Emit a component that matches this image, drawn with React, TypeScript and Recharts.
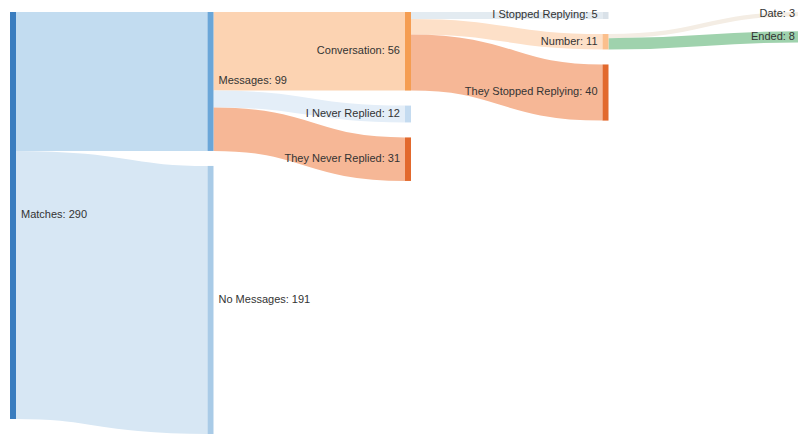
import { Sankey } from "recharts";

const nodeNames = [
  "Matches",
  "Messages",
  "No Messages",
  "Conversation",
  "I Never Replied",
  "They Never Replied",
  "I Stopped Replying",
  "Number",
  "They Stopped Replying",
  "Date",
  "Ended",
];
const nodeValues = [290, 99, 191, 56, 12, 31, 5, 11, 40, 3, 8];
const nodeColors = [
  "#3a7dbf",
  "#6aa6d8",
  "#a9cbe7",
  "#f59d52",
  "#c4dbf0",
  "#e2692d",
  "#d9e1e8",
  "#fbbf8c",
  "#e2692d",
  "#e6ddd1",
  "#3e9f57",
];
// label to the right of the node for these, left for the rest
const labelRight = [true, true, true, false, false, false, false, false, false, false, false];

const linkSources = [0, 0, 1, 1, 1, 3, 3, 3, 7, 7];
const linkTargets = [1, 2, 3, 4, 5, 6, 7, 8, 9, 10];
const linkValues = [99, 191, 56, 12, 31, 5, 11, 40, 3, 8];
const linkColors = [
  "#c2dcf0",
  "#d7e7f4",
  "#fcd3b2",
  "#e4eef8",
  "#f6b796",
  "#e3ebf1",
  "#fde0c8",
  "#f6b796",
  "#f4ede4",
  "#9fd2ad",
];

const data = {
  nodes: nodeNames.map((name) => ({ name })),
  links: linkSources.map((source, i) => ({
    source,
    target: linkTargets[i],
    value: linkValues[i],
  })),
};

function SankeyNode(props: any) {
  const { x, y, width, height, index } = props;
  const right = labelRight[index];
  const label = `${nodeNames[index]}: ${nodeValues[index]}`;
  return (
    <g>
      <rect x={x} y={y} width={width} height={height} fill={nodeColors[index]} />
      <text
        x={right ? x + width + 5 : x - 5}
        y={y + height / 2}
        textAnchor={right ? "start" : "end"}
        dominantBaseline="middle"
        fontSize={11}
        fontFamily="Arial, 'Liberation Sans', sans-serif"
        fill="#333"
      >
        {label}
      </text>
    </g>
  );
}

function SankeyLink(props: any) {
  const { sourceX, targetX, sourceY, targetY, sourceControlX, targetControlX, linkWidth, index } = props;
  return (
    <path
      d={`M${sourceX},${sourceY} C${sourceControlX},${sourceY} ${targetControlX},${targetY} ${targetX},${targetY}`}
      fill="none"
      stroke={linkColors[index]}
      strokeWidth={linkWidth}
    />
  );
}

export default function App() {
  return (
    <Sankey
      width={798}
      height={426}
      data={data}
      nodeWidth={6}
      nodePadding={15}
      align="left"
      verticalAlign="top"
      sort={false}
      margin={{ top: 4, right: 0, bottom: 0, left: 2 }}
      node={<SankeyNode />}
      link={<SankeyLink />}
    />
  );
}
